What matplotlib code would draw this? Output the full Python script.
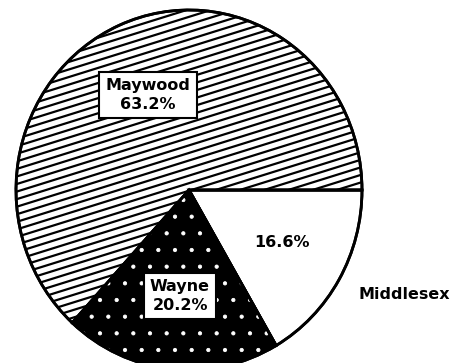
import numpy as np
import matplotlib
matplotlib.use("Agg")
import matplotlib.pyplot as plt
from matplotlib.patches import Wedge

# County shares (percent), drawn clockwise from 3 o'clock
counties = ["Middlesex", "Wayne", "Maywood"]
shares = [16.6, 20.2, 63.2]

plt.rcParams['font.family'] = ['DejaVu Sans']
plt.rcParams['hatch.linewidth'] = 0.6

fig = plt.figure(figsize=(4.51, 3.63), dpi=100)
ax = fig.add_axes([0, 0, 1, 1])

wedges, _ = ax.pie(shares, startangle=0, counterclock=False,
                   colors=["white", "black", "white"],
                   wedgeprops=dict(edgecolor="black", linewidth=2.0))

# pie forces a round shape; let the limits stretch it a little taller
ax.set_aspect("auto")
ax.set_xlim(-1.0925, 1.5145)
ax.set_ylim(-0.961, 1.0556)
ax.axis("off")

# shallow diagonal line fill for Maywood
maywood = wedges[2]
xs = np.array([-1.2, 1.2])
for c in np.arange(-1.6, 1.6, 0.042):
    ln, = ax.plot(xs, 0.30 * xs + c, color="black", lw=1.6,
                  solid_capstyle="butt", zorder=2)
    ln.set_clip_path(maywood)

# white speckle fill for Wayne
wayne = wedges[1]
speck = Wedge((0, 0), 1, wayne.theta1, wayne.theta2, facecolor="none",
              edgecolor="white", hatch=".", linewidth=0, zorder=2)
ax.add_patch(speck)
speck.set_clip_path(wayne)

# redraw outlines on top of the fills
for w in wedges:
    ax.add_patch(Wedge((0, 0), 1, w.theta1, w.theta2, facecolor="none",
                       edgecolor="black", linewidth=2.0, zorder=3))

box = dict(boxstyle="square,pad=0.4", facecolor="white",
           edgecolor="black", linewidth=1.5)
font = dict(fontsize=11.5, fontweight="bold", ha="center", va="center",
            zorder=5, linespacing=1.3)

ax.text(-0.237, 0.528, f"{counties[2]}\n{shares[2]:.1f}%", bbox=box, **font)
ax.text(-0.052, -0.589, f"{counties[1]}\n{shares[1]:.1f}%", bbox=box, **font)
ax.text(0.538, -0.289, f"{shares[0]:.1f}%", **font)
ax.text(0.977, -0.583, counties[0], fontsize=11.5, fontweight="bold",
        ha="left", va="center")

fig.savefig("out.png", dpi=100)
